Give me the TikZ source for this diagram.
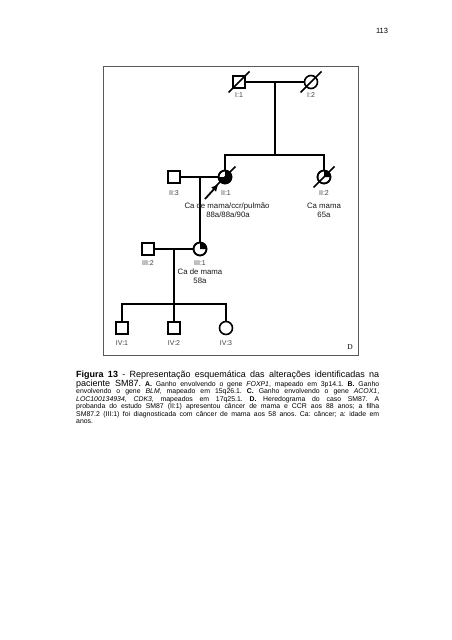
\documentclass[tikz,border=0pt]{standalone}
\usepackage{fontspec}
\setmainfont{Liberation Sans}
\newfontfamily\letterfont{Liberation Serif}
\usetikzlibrary{calc,arrows.meta}

\tikzset{
  male/.style={draw, rectangle, minimum size=12.5pt, inner sep=0pt, line width=1.6pt, fill=white},
  female/.style={draw, circle, minimum size=13pt, inner sep=0pt, line width=1.6pt, fill=white},
  rel/.style={line width=1.6pt},
  idlabel/.style={font=\fontsize{7}{8}\selectfont, text=black!75, inner sep=0pt},
  note/.style={font=\fontsize{7.8}{9}\selectfont, text=black!90, inner sep=0pt, align=center},
}
\def\deceased(#1){\draw[rel] ($(#1.center)+(-10.5,10.5)$) -- ($(#1.center)+(10.5,-10.5)$);}
\def\affected(#1)(#2:#3){\fill ($(#1.center)$) -- ($(#1.center)+(#2:6.5pt)$) arc[start angle=#2, end angle=#3, radius=6.5pt] -- cycle;}

\begin{document}
\frenchspacing
\begin{tikzpicture}[x=1pt, y=-1pt]
	%%%%% START %%%%%
	\fill[white] (0,0) rectangle (452,640);
	\useasboundingbox (0,0) rectangle (452,640);
	
	\node[font=\fontsize{7.5}{8}\selectfont] (pagenum) at (382,31) {113};
	\draw[black!65, line width=0.8pt] (103,66) rectangle (358,355);
	
	% generation I
	\node[male] (I1) at (239,82) {};
	\node[female] (I2) at (311,82) {};
	\coordinate (mI) at (275,82);
	\coordinate (sibII) at (275,155);
	
	% generation II
	\node[male] (II3) at (174,177) {};
	\node[female] (II1) at (225,177) {};
	\node[female] (II2) at (324,177) {};
	\coordinate (mII) at (200,177);
	
	% generation III
	\node[male] (III2) at (148,249) {};
	\node[female] (III1) at (200,249) {};
	\coordinate (mIII) at (174,249);
	\coordinate (sibIV) at (174,304);
	
	% generation IV
	\node[male] (IV1) at (122,328) {};
	\node[male] (IV2) at (174,328) {};
	\node[female] (IV3) at (226,328) {};
	
	\draw[rel] (I1.east) -- (I2.west);
	\draw[rel] (mI) -- (sibII);
	\draw[rel] (II1.north) |- (sibII) -| (II2.north);
	\draw[rel] (II3.east) -- (II1.west);
	\draw[rel] (mII) -- (III1.north);
	\draw[rel] (III2.east) -- (III1.west);
	\draw[rel] (mIII) -- (sibIV);
	\draw[rel] (IV1.north) |- (sibIV) -| (IV3.north);
	\draw[rel] (sibIV) -- (IV2.north);
	
	\affected(II1)(180:450)
	\affected(II2)(0:90)
	\affected(III1)(0:90)
	\node[female, fill=none] at (II1) {};
	\node[female, fill=none] at (II2) {};
	\node[female, fill=none] at (III1) {};
	
	\deceased(I1)
	\deceased(I2)
	\deceased(II1)
	\deceased(II2)
	
	\coordinate (proband) at (205,199);
	\draw[line width=1.8pt, -{Latex[length=7pt,width=7pt]}] (proband) -- ($(II1.center)!0.33!(proband)$);
	
	\node[idlabel] (lI1) at (239,95) {I:1};
	\node[idlabel] (lI2) at (311,95) {I:2};
	\node[idlabel] (lII3) at (174,193) {II:3};
	\node[idlabel] (lII1) at (226,193) {II:1};
	\node[idlabel] (lII2) at (324,193) {II:2};
	\node[idlabel] (lIII2) at (148,263) {III:2};
	\node[idlabel] (lIII1) at (200,263) {III:1};
	\node[idlabel] (lIV1) at (122,343) {IV:1};
	\node[idlabel] (lIV2) at (174,343) {IV:2};
	\node[idlabel] (lIV3) at (226,343) {IV:3};
	
	\node[note] (cII1) at (227,206) {Ca de mama/ccr/pulmão};
	\node[note] (aII1) at (228,215) {88a/88a/90a};
	\node[note] (cII2) at (324,206) {Ca mama};
	\node[note] (aII2) at (324,215) {65a};
	\node[note] (cIII1) at (200,272) {Ca de mama};
	\node[note] (aIII1) at (200,281) {58a};
	
	\node[font=\letterfont\fontsize{7.5}{8}\selectfont] (panel) at (350,347) {D};
	
	% legenda
	\node[anchor=base west, inner sep=0pt, font=\fontsize{9}{10}\selectfont] (caption1) at (76,377)
		{\makebox[303pt][s]{\textbf{Figura 13} - Representação esquemática das alterações identificadas na}};
	\node[anchor=north west, inner sep=0pt, text width=303pt, align=justify, font=\fontsize{6.9}{7.5}\selectfont] (caption2) at (76,379.5)
		{{\fontsize{9}{10}\selectfont paciente SM87.} \textbf{A.} Ganho envolvendo o gene \textit{FOXP1}, mapeado em 3p14.1. \textbf{B.} Ganho\linebreak
		envolvendo o gene \textit{BLM}, mapeado em 15q26.1. \textbf{C.} Ganho envolvendo o gene \textit{ACOX1},\linebreak
		\textit{LOC100134934}, \textit{CDK3}, mapeados em 17q25.1. \textbf{D.} Heredograma do caso SM87. A\linebreak
		probanda do estudo SM87 (II:1) apresentou câncer de mama e CCR aos 88 anos; a filha\linebreak
		SM87.2 (III:1) foi diagnosticada com câncer de mama aos 58 anos. Ca: câncer; a: idade em\linebreak
		anos.};
	%%%%% END %%%%%
\end{tikzpicture}
\end{document}
